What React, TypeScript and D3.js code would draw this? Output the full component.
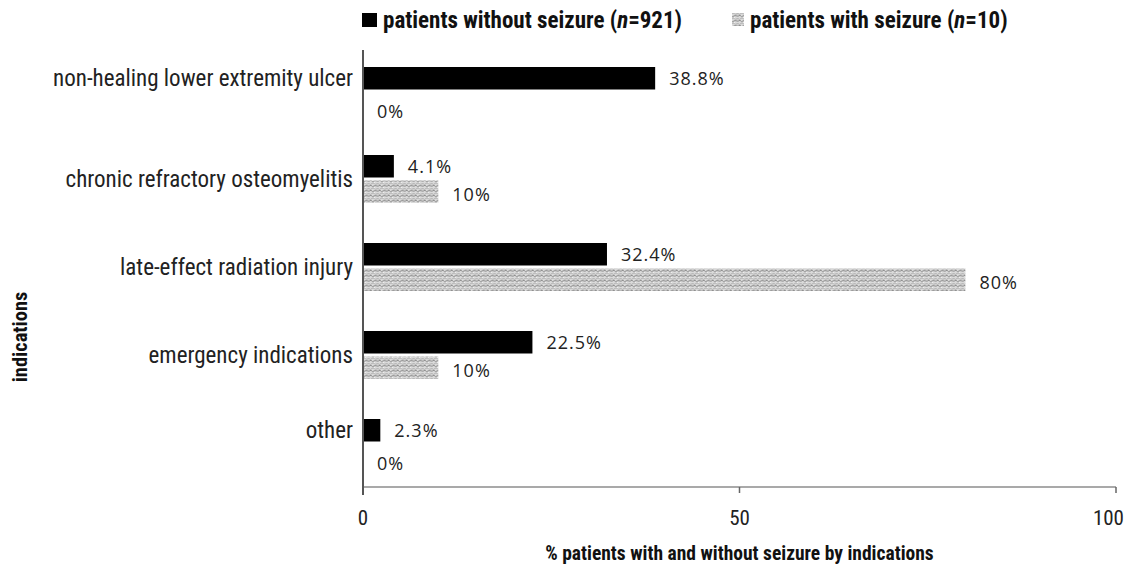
import * as d3 from 'd3';

const categories = [
  'non-healing lower extremity ulcer',
  'chronic refractory osteomyelitis',
  'late-effect radiation injury',
  'emergency indications',
  'other',
];
const withoutSeizure = [38.8, 4.1, 32.4, 22.5, 2.3];
const withSeizure = [0, 10, 80, 10, 0];
const xTicks = [0, 50, 100];
const seriesNames = ['patients without seizure', 'patients with seizure'];
const seriesN = [921, 10];

const W = 1130;
const H = 569;
const margin = { top: 47, right: 14, bottom: 82, left: 363 };
const narrow = '"Liberation Sans Narrow", "Roboto Condensed", "Liberation Sans", sans-serif';
const valueFont = '"Open Sans", "DejaVu Sans", sans-serif';

export default function App() {
  const x = d3.scaleLinear().domain([0, 100]).range([margin.left, W - margin.right]);
  const y = d3.scaleBand<string>().domain(categories).range([margin.top, H - margin.bottom]);
  const step = y.step();
  const barH = 22.5;
  const gap = 3;
  const axisY = H - margin.bottom;

  return (
    <svg width={W} height={H} style={{ position: 'absolute', left: 0, top: 0, background: '#fff' }}>
      <defs>
        <pattern id="grain" width="9" height="5" patternUnits="userSpaceOnUse">
          <rect width="9" height="5" fill="#dadada" />
          <path d="M0 1.2 L2 0.3 L3.5 1.6 L6 0.6 L9 1.2" stroke="#858585" strokeWidth="0.9" fill="none" />
          <path d="M0 3.6 L1.5 4.4 L4 2.9 L6.5 4.2 L9 3.6" stroke="#a5a5a5" strokeWidth="0.8" fill="none" />
          <rect x="5" y="2.2" width="1" height="1" fill="#f4f4f4" />
        </pattern>
      </defs>

      {/* legend */}
      <g fontFamily={narrow} fontWeight="bold" fontSize={23} fill="#111">
        <rect x={362} y={13} width={15} height={14} fill="#000" />
        <text x={383} y={28}>
          {seriesNames[0]} (<tspan fontStyle="italic">n</tspan>={seriesN[0]})
        </text>
        <rect x={732} y={13} width={12} height={13} fill="url(#grain)" />
        <text x={750} y={28}>
          {seriesNames[1]} (<tspan fontStyle="italic">n</tspan>={seriesN[1]})
        </text>
      </g>

      {/* bars */}
      {categories.map((c, i) => {
        const mid = (y(c) as number) + step / 2;
        const yb = mid - gap / 2 - barH;
        const yg = mid + gap / 2;
        const a = withoutSeizure[i];
        const b = withSeizure[i];
        const labelY = b > 0 ? mid : yb + barH / 2;
        return (
          <g key={c}>
            <rect x={x(0)} y={yb} width={x(a) - x(0)} height={barH} fill="#000" />
            {b > 0 && <rect x={x(0)} y={yg} width={x(b) - x(0)} height={barH} fill="url(#grain)" />}
            <text
              x={x(a) + 14}
              y={yb + barH / 2}
              dy="0.35em"
              fontFamily={valueFont}
              fontSize={18}
              letterSpacing={1}
              fill="#222"
            >
              {a}%
            </text>
            <text
              x={x(b) + 14}
              y={yg + barH / 2 + (b > 0 ? 3 : 8)}
              dy="0.35em"
              fontFamily={valueFont}
              fontSize={18}
              letterSpacing={1}
              fill="#222"
            >
              {b}%
            </text>
            <text
              x={margin.left - 10}
              y={labelY}
              dy="0.35em"
              textAnchor="end"
              fontFamily={narrow}
              fontSize={23}
              fill="#222"
            >
              {c}
            </text>
          </g>
        );
      })}

      {/* axes */}
      <line x1={x(0)} x2={x(100)} y1={axisY} y2={axisY} stroke="#8c8c8c" strokeWidth={1.5} />
      <line x1={x(0)} x2={x(0)} y1={margin.top + 3} y2={axisY + 8} stroke="#555" strokeWidth={2} />
      {xTicks.map((t, i) => {
        const last = i === xTicks.length - 1;
        return (
          <g key={t}>
            {t > 0 && <line x1={x(t)} x2={x(t)} y1={axisY} y2={axisY + 6} stroke="#666" strokeWidth={1.5} />}
            <text
              x={last ? x(t) + 8 : x(t)}
              y={axisY + 31}
              dy="0.35em"
              textAnchor={last ? 'end' : 'middle'}
              fontFamily={narrow}
              fontSize={21}
              fill="#222"
            >
              {t}
            </text>
          </g>
        );
      })}

      {/* axis titles */}
      <text
        x={(x(0) + x(100)) / 2}
        y={553}
        dy="0.35em"
        textAnchor="middle"
        fontFamily={narrow}
        fontWeight="bold"
        fontSize={19.5}
        fill="#111"
      >
        % patients with and without seizure by indications
      </text>
      <text
        transform={`translate(20,${(margin.top + axisY) / 2 + 70}) rotate(-90)`}
        dy="0.35em"
        textAnchor="middle"
        fontFamily={narrow}
        fontWeight="bold"
        fontSize={20.5}
        fill="#111"
      >
        indications
      </text>
    </svg>
  );
}
